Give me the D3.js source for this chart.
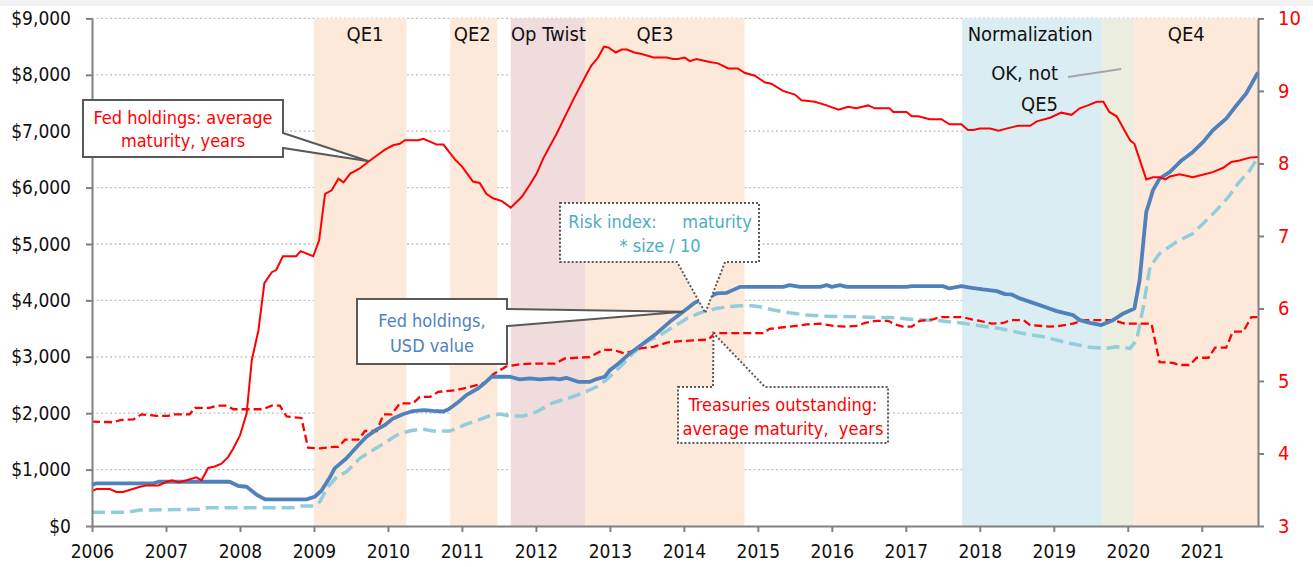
<!DOCTYPE html>
<html>
<head>
<meta charset="utf-8">
<script src="https://cdn.jsdelivr.net/npm/d3@7"></script>
<style>
  html, body { margin: 0; padding: 0; background: #fff; }
  svg text { font-family: "DejaVu Sans Condensed", "DejaVu Sans", sans-serif; font-stretch: condensed; }
</style>
</head>
<body>
<div id="chart"></div>
<script>
// ---- data ----
const yearTicks = d3.range(2006, 2022);
const usdTicks = d3.range(0, 9001, 1000);
const maturityTicks = d3.range(3, 11);

// policy periods [start, end] in decimal years
const periods = [
  { label: 'QE1', start: 2009.00, end: 2010.25, labelAt: 2009.69, kind: 'qe' },
  { label: 'QE2', start: 2010.84, end: 2011.48, labelAt: 2011.14, kind: 'qe' },
  { label: 'Op Twist', start: 2011.66, end: 2012.67, labelAt: 2012.17, kind: 'twist' },
  { label: 'QE3', start: 2012.67, end: 2014.82, labelAt: 2013.61, kind: 'qe' },
  { label: 'Normalization', start: 2017.76, end: 2019.66, labelAt: 2018.68, kind: 'norm' },
  { label: '', start: 2019.66, end: 2020.09, labelAt: 2019.9, kind: 'okqe5' },
  { label: 'QE4', start: 2020.09, end: 2021.76, labelAt: 2020.79, kind: 'qe' }
];

// Fed holdings: average maturity, years (right axis)
const fedMaturity = [
  [2006.00,3.48],[2006.06,3.51],[2006.24,3.51],[2006.33,3.47],[2006.42,3.47],[2006.65,3.54],
  [2006.74,3.56],[2006.90,3.56],[2007.01,3.61],[2007.08,3.63],[2007.17,3.60],[2007.28,3.63],
  [2007.41,3.67],[2007.48,3.63],[2007.57,3.80],[2007.66,3.82],[2007.75,3.86],[2007.84,3.95],
  [2007.91,4.07],[2008.00,4.25],[2008.09,4.55],[2008.16,5.29],[2008.25,5.70],[2008.33,6.35],
  [2008.43,6.50],[2008.49,6.53],[2008.58,6.72],[2008.76,6.72],[2008.82,6.79],[2008.99,6.72],
  [2009.07,6.94],[2009.15,7.58],[2009.24,7.63],[2009.33,7.79],[2009.40,7.74],[2009.49,7.86],
  [2009.62,7.93],[2009.73,8.02],[2009.85,8.11],[2009.96,8.19],[2010.07,8.25],[2010.16,8.27],
  [2010.23,8.32],[2010.41,8.32],[2010.48,8.34],[2010.66,8.26],[2010.75,8.26],[2010.91,8.05],
  [2011.00,7.96],[2011.15,7.75],[2011.24,7.73],[2011.33,7.58],[2011.42,7.52],[2011.54,7.48],
  [2011.66,7.39],[2011.81,7.54],[2011.92,7.71],[2012.01,7.86],[2012.10,8.07],[2012.28,8.41],
  [2012.50,8.87],[2012.69,9.24],[2012.75,9.35],[2012.84,9.46],[2012.92,9.61],[2012.98,9.60],
  [2013.08,9.53],[2013.16,9.57],[2013.23,9.57],[2013.33,9.53],[2013.43,9.51],[2013.59,9.46],
  [2013.77,9.46],[2013.85,9.44],[2013.92,9.44],[2014.01,9.46],[2014.08,9.41],[2014.17,9.44],
  [2014.35,9.40],[2014.46,9.38],[2014.60,9.31],[2014.73,9.31],[2014.82,9.25],[2014.96,9.21],
  [2015.09,9.12],[2015.18,9.10],[2015.34,9.00],[2015.50,8.95],[2015.59,8.87],[2015.68,8.86],
  [2015.77,8.85],[2015.93,8.80],[2016.09,8.74],[2016.22,8.78],[2016.33,8.76],[2016.49,8.80],
  [2016.58,8.76],[2016.78,8.76],[2016.83,8.71],[2017.01,8.71],[2017.08,8.65],[2017.17,8.65],
  [2017.32,8.61],[2017.48,8.61],[2017.59,8.54],[2017.75,8.54],[2017.84,8.46],[2017.91,8.46],
  [2018.00,8.48],[2018.14,8.48],[2018.25,8.45],[2018.36,8.48],[2018.52,8.52],[2018.68,8.52],
  [2018.77,8.58],[2018.95,8.63],[2019.10,8.70],[2019.24,8.67],[2019.35,8.76],[2019.46,8.80],
  [2019.58,8.85],[2019.67,8.85],[2019.75,8.71],[2019.85,8.65],[2020.03,8.32],[2020.09,8.27],
  [2020.25,7.78],[2020.34,7.81],[2020.43,7.81],[2020.51,7.78],[2020.57,7.82],[2020.70,7.85],
  [2020.88,7.81],[2021.04,7.85],[2021.15,7.88],[2021.29,7.94],[2021.40,8.02],[2021.51,8.04],
  [2021.65,8.08],[2021.76,8.09]
];

// Treasuries outstanding: average maturity, years (right axis)
const treasMaturity = [
  [2006.00,4.44],[2006.29,4.43],[2006.38,4.46],[2006.56,4.47],[2006.67,4.54],[2006.87,4.52],
  [2007.03,4.52],[2007.12,4.54],[2007.32,4.54],[2007.39,4.63],[2007.59,4.63],[2007.69,4.66],
  [2007.82,4.66],[2007.91,4.61],[2008.31,4.61],[2008.43,4.66],[2008.54,4.66],[2008.63,4.51],
  [2008.83,4.49],[2008.92,4.08],[2009.08,4.07],[2009.26,4.09],[2009.33,4.09],[2009.42,4.19],
  [2009.60,4.19],[2009.69,4.31],[2009.85,4.31],[2009.94,4.54],[2010.05,4.54],[2010.16,4.69],
  [2010.34,4.69],[2010.43,4.78],[2010.57,4.78],[2010.68,4.85],[2010.91,4.87],[2011.15,4.93],
  [2011.31,4.97],[2011.42,5.09],[2011.60,5.20],[2011.78,5.23],[2011.94,5.24],[2012.26,5.24],
  [2012.39,5.31],[2012.73,5.33],[2012.91,5.43],[2013.04,5.43],[2013.20,5.38],[2013.41,5.45],
  [2013.59,5.47],[2013.77,5.53],[2013.95,5.55],[2014.13,5.56],[2014.33,5.57],[2014.42,5.66],
  [2014.89,5.66],[2015.07,5.66],[2015.16,5.72],[2015.43,5.75],[2015.66,5.78],[2015.84,5.79],
  [2016.02,5.76],[2016.18,5.75],[2016.33,5.76],[2016.45,5.80],[2016.60,5.83],[2016.76,5.83],
  [2016.85,5.78],[2016.96,5.75],[2017.08,5.75],[2017.19,5.83],[2017.37,5.85],[2017.46,5.88],
  [2017.77,5.88],[2017.89,5.85],[2018.00,5.83],[2018.16,5.79],[2018.32,5.80],[2018.41,5.84],
  [2018.59,5.84],[2018.68,5.77],[2018.95,5.75],[2019.08,5.76],[2019.26,5.79],[2019.40,5.84],
  [2019.80,5.84],[2019.96,5.79],[2020.32,5.79],[2020.43,5.26],[2020.61,5.25],[2020.70,5.22],
  [2020.84,5.22],[2020.93,5.32],[2021.09,5.32],[2021.18,5.46],[2021.33,5.46],[2021.42,5.68],
  [2021.56,5.68],[2021.67,5.88],[2021.76,5.88]
];

// Fed holdings, USD value, $bn (left axis)
const fedUsd = [
  [2006.00,730],[2006.06,757],[2006.83,757],[2006.90,785],[2007.86,785],[2007.98,709],
  [2008.09,696],[2008.23,549],[2008.34,473],[2008.90,473],[2009.01,519],[2009.10,625],
  [2009.22,874],[2009.28,1022],[2009.44,1200],[2009.58,1405],[2009.71,1582],[2009.85,1713],
  [2009.96,1790],[2010.07,1908],[2010.21,1985],[2010.34,2038],[2010.48,2056],[2010.61,2040],
  [2010.75,2030],[2010.82,2070],[2010.93,2175],[2011.06,2321],[2011.22,2440],[2011.31,2539],
  [2011.40,2646],[2011.65,2646],[2011.78,2600],[2011.92,2617],[2012.05,2600],[2012.23,2617],
  [2012.32,2600],[2012.41,2628],[2012.57,2557],[2012.73,2557],[2012.82,2605],[2012.93,2646],
  [2013.00,2764],[2013.09,2853],[2013.27,3060],[2013.45,3237],[2013.63,3415],[2013.81,3620],
  [2013.99,3797],[2014.15,3964],[2014.35,4063],[2014.44,4123],[2014.58,4134],[2014.76,4240],
  [2015.34,4240],[2015.43,4270],[2015.57,4240],[2015.84,4240],[2015.93,4270],[2016.00,4240],
  [2016.11,4270],[2016.20,4240],[2017.01,4240],[2017.08,4253],[2017.50,4253],[2017.59,4212],
  [2017.75,4253],[2017.89,4223],[2018.04,4194],[2018.23,4164],[2018.34,4111],[2018.43,4106],
  [2018.54,4035],[2018.72,3957],[2018.90,3875],[2019.04,3810],[2019.26,3739],[2019.35,3650],
  [2019.49,3602],[2019.64,3562],[2019.80,3650],[2019.94,3769],[2020.09,3858],[2020.16,4359],
  [2020.25,5569],[2020.30,5777],[2020.34,5954],[2020.43,6160],[2020.57,6278],[2020.73,6486],
  [2020.88,6632],[2021.02,6810],[2021.15,7017],[2021.33,7224],[2021.47,7460],[2021.60,7668],
  [2021.76,8040]
];

// Risk index: maturity * size / 10 (left axis)
const riskIndex = [
  [2006.00,243],[2006.47,243],[2006.65,284],[2007.46,296],[2007.55,324],[2008.72,324],
  [2008.83,354],[2009.01,354],[2009.08,431],[2009.19,696],[2009.31,874],[2009.44,962],
  [2009.62,1200],[2009.80,1347],[2009.98,1494],[2010.12,1613],[2010.30,1689],[2010.46,1719],
  [2010.61,1683],[2010.84,1683],[2011.06,1807],[2011.38,1954],[2011.51,1985],[2011.65,1949],
  [2011.83,1949],[2012.01,2025],[2012.23,2185],[2012.46,2274],[2012.64,2362],[2012.82,2468],
  [2012.96,2600],[2013.14,2823],[2013.31,3060],[2013.50,3266],[2013.68,3385],[2013.86,3532],
  [2014.04,3680],[2014.22,3780],[2014.44,3858],[2014.67,3898],[2014.85,3916],[2015.03,3886],
  [2015.21,3828],[2015.43,3780],[2015.66,3739],[2015.88,3721],[2016.33,3709],[2016.56,3698],
  [2016.78,3698],[2017.10,3663],[2017.46,3638],[2017.73,3602],[2018.00,3549],[2018.27,3503],
  [2018.54,3425],[2018.86,3354],[2019.13,3266],[2019.44,3177],[2019.71,3149],[2019.85,3177],
  [2020.03,3149],[2020.12,3296],[2020.21,3886],[2020.30,4595],[2020.43,4832],[2020.66,5038],
  [2020.88,5187],[2021.04,5392],[2021.20,5600],[2021.36,5835],[2021.49,6073],[2021.65,6308],
  [2021.76,6540]
];

// ---- styles ----
const periodFill = { qe: '#FDE9D9', twist: '#F0DBDD', norm: '#DAEDF3', okqe5: '#EBEEDF' };
const axisGrey = '#808080';
const boxGrey = '#595959';

// ---- layout ----
const width = 1313, height = 567;
const plot = { left: 92, right: 1258, top: 18.4, bottom: 526 };

const svg = d3.select('#chart').append('svg')
  .attr('width', width)
  .attr('height', height);

// cropped title strip at the very top
svg.append('rect').attr('x', 0).attr('y', 0).attr('width', width).attr('height', 6).attr('fill', '#F2F2F2');

const x = d3.scaleLinear().domain([2006, 2021.76]).range([plot.left, plot.right]);
const yL = d3.scaleLinear().domain([0, 9000]).range([plot.bottom, plot.top]);
const yR = d3.scaleLinear().domain([3, 10]).range([plot.bottom, plot.top]);

// grid (under the shading)
svg.append('g')
  .selectAll('line')
  .data(usdTicks.filter(d => d > 0))
  .join('line')
  .attr('x1', plot.left).attr('x2', plot.right)
  .attr('y1', d => yL(d)).attr('y2', d => yL(d))
  .attr('stroke', '#BFBFBF')
  .attr('stroke-width', 1.3)
  .attr('stroke-dasharray', '2,2.5');

// policy period bands
svg.append('g')
  .selectAll('rect')
  .data(periods)
  .join('rect')
  .attr('x', d => x(d.start))
  .attr('width', d => x(d.end) - x(d.start))
  .attr('y', plot.top)
  .attr('height', plot.bottom - plot.top)
  .attr('fill', d => periodFill[d.kind]);

svg.append('g')
  .selectAll('text')
  .data(periods.filter(d => d.label))
  .join('text')
  .attr('x', d => x(d.labelAt))
  .attr('y', 41)
  .attr('text-anchor', 'middle')
  .attr('font-size', 20)
  .attr('fill', '#111')
  .text(d => d.label);

// "OK, not QE5"
const okG = svg.append('g').attr('font-size', 20).attr('fill', '#111').attr('text-anchor', 'end');
okG.append('text').attr('x', 1058).attr('y', 80).text('OK, not');
okG.append('text').attr('x', 1058).attr('y', 111).text('QE5');
svg.append('line')
  .attr('x1', 1068).attr('y1', 77)
  .attr('x2', x(2019.91)).attr('y2', 69)
  .attr('stroke', '#A6A6A6').attr('stroke-width', 2);

// ---- series ----
const lineL = d3.line().x(d => x(d[0])).y(d => yL(d[1]));
const lineR = d3.line().x(d => x(d[0])).y(d => yR(d[1]));

svg.append('path').datum(riskIndex)
  .attr('d', lineL).attr('fill', 'none')
  .attr('stroke', '#92CDDC').attr('stroke-width', 3.5)
  .attr('stroke-dasharray', '13,6');

svg.append('path').datum(treasMaturity)
  .attr('d', lineR).attr('fill', 'none')
  .attr('stroke', '#FF0000').attr('stroke-width', 2.3)
  .attr('stroke-dasharray', '8,4');

svg.append('path').datum(fedUsd)
  .attr('d', lineL).attr('fill', 'none')
  .attr('stroke', '#4F81BD').attr('stroke-width', 3.8)
  .attr('stroke-linejoin', 'round');

svg.append('path').datum(fedMaturity)
  .attr('d', lineR).attr('fill', 'none')
  .attr('stroke', '#FF0000').attr('stroke-width', 2);

// ---- axes ----
const styleAxis = g => {
  g.select('.domain').attr('stroke', axisGrey).attr('stroke-width', 2);
  g.selectAll('.tick line').attr('stroke', axisGrey).attr('stroke-width', 2);
};

svg.append('g')
  .attr('transform', `translate(${plot.left},0)`)
  .call(d3.axisLeft(yL).tickValues(usdTicks).tickSize(6).tickSizeOuter(0).tickPadding(15)
    .tickFormat(d => '$' + d3.format(',')(d)))
  .call(styleAxis)
  .call(g => g.selectAll('.tick text')
    .attr('font-size', 19).attr('fill', '#111').attr('font-family', null));

svg.append('g')
  .attr('transform', `translate(0,${plot.bottom})`)
  .call(d3.axisBottom(x).tickValues(yearTicks).tickSize(6).tickSizeOuter(0).tickPadding(13)
    .tickFormat(d3.format('d')))
  .call(styleAxis)
  .call(g => g.selectAll('.tick text')
    .attr('font-size', 19).attr('fill', '#111').attr('font-family', null));

svg.append('g')
  .attr('transform', `translate(${plot.right},0)`)
  .call(d3.axisRight(yR).tickValues(maturityTicks).tickSize(6).tickSizeOuter(0).tickPadding(14)
    .tickFormat(d3.format('d')))
  .call(styleAxis)
  .call(g => g.selectAll('.tick text')
    .attr('font-size', 20).attr('fill', '#FF0000').attr('font-family', null));

// ---- callouts ----
function callout(path, dotted) {
  svg.append('path')
    .attr('d', path)
    .attr('fill', '#fff')
    .attr('stroke', boxGrey)
    .attr('stroke-width', 2)
    .attr('stroke-linejoin', 'miter')
    .attr('stroke-dasharray', dotted ? '2,2' : null);
}
function calloutText(cx, lines, color) {
  const t = svg.append('g').attr('font-size', 18).attr('fill', color).attr('text-anchor', 'middle');
  lines.forEach(l => t.append('text').attr('x', cx).attr('y', l[1]).style('white-space', 'pre').text(l[0]));
}

// Fed holdings: average maturity
let tx = x(2009.74), ty = yR(8.03);
callout(`M83,100 H283 V133 L${tx},${ty} L283,148 V157 H83 Z`, false);
calloutText(183, [['Fed holdings: average', 124], ['maturity, years', 147]], '#FF0000');

// Fed holdings, USD value
tx = x(2013.99); ty = yL(3797);
callout(`M357,299 H507 V309 L${tx},${ty} L507,326 V364 H357 Z`, false);
calloutText(432, [['Fed holdings,', 327], ['USD value', 352]], '#4F81BD');

// Risk index
tx = x(2014.29); ty = yL(3780);
callout(`M560,203 H759 V262 H725 L${tx},${ty} L677,262 H560 Z`, true);
calloutText(660, [['Risk index:     maturity', 228], ['* size / 10', 252]], '#4BACC6');

// Treasuries outstanding
tx = x(2014.40); ty = yR(5.66);
callout(`M678,387 H713 L${tx},${ty} L765,387 H888 V443 H678 Z`, true);
calloutText(783, [['Treasuries outstanding:', 411], ['average maturity,  years', 435]], '#FF0000');
</script>
</body>
</html>
